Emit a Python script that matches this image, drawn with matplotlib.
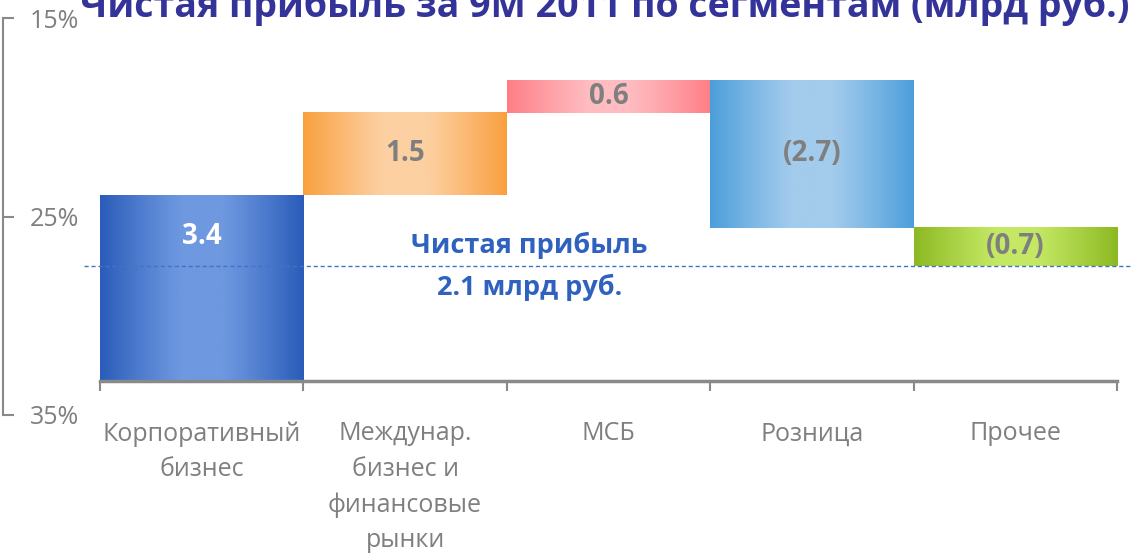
import numpy as np
import matplotlib
matplotlib.use("Agg")
import matplotlib.pyplot as plt
from matplotlib.colors import to_rgb

plt.rcParams['font.family'] = ['Open Sans', 'DejaVu Sans']

# data
categories = ["Корпоративный\nбизнес", "Междунар.\nбизнес и\nфинансовые\nрынки",
              "МСБ", "Розница", "Прочее"]
values = [3.4, 1.5, 0.6, -2.7, -0.7]
value_labels = ["3.4", "1.5", "0.6", "(2.7)", "(0.7)"]
net_profit = 2.1
pct_ticks = [15, 25, 35]
pct_labels = ["15%", "25%", "35%"]

edge_colors = ["#2a5cb9", "#f9a03f", "#fe7e86", "#4c9edb", "#8cb922"]
mid_colors = ["#6e98e0", "#fdd0a2", "#ffbcc1", "#a2cbec", "#c4e864"]
label_colors = ["white", "#7f7f7f", "#7f7f7f", "#7f7f7f", "#7f7f7f"]
grey = "#898989"

W, H = 1132, 557
fig = plt.figure(figsize=(W / 100, H / 100), dpi=100)

px = 54.7  # pixels per unit
ax = fig.add_axes([100 / W, (H - 381) / H, 1017 / W, 381 / H])
ax.patch.set_alpha(0)


def gradient(c_edge, c_mid, n=256):
    x = np.linspace(0, 1, n)
    t = np.abs(x - 0.5) * 2
    w = np.clip((t - 0.2) / 0.8, 0, 1) ** 1.1
    e = np.array(to_rgb(c_edge))
    m = np.array(to_rgb(c_mid))
    img = m[None, :] + (e - m)[None, :] * w[:, None]
    return img[None, :, :]


cum = np.concatenate([[0], np.cumsum(values)])
for i, v in enumerate(values):
    b = min(cum[i], cum[i + 1])
    t = max(cum[i], cum[i + 1])
    ax.imshow(gradient(edge_colors[i], mid_colors[i]), extent=(i, i + 1, b, t),
              aspect='auto', interpolation='bilinear', zorder=2)
    ly = (b + t) / 2
    if i == 0:
        ly = t - 0.76
    ax.text(i + 0.5, ly, value_labels[i], ha='center', va='center',
            fontsize=20, fontweight='bold', color=label_colors[i], zorder=4)

ax.set_xlim(0, 5)
ax.set_ylim(0, 381 / px)

# net profit line
ax.plot([-0.08, 5.08], [net_profit, net_profit], color="#4472c4", lw=1,
        ls=(0, (3, 2)), clip_on=False, zorder=3)
ax.text(2.11, net_profit, "Чистая прибыль\n%.1f млрд руб." % net_profit,
        ha='center', va='center', fontsize=19.5, fontweight='bold',
        color="#2f62bf", linespacing=1.7, zorder=4)

for s in ["top", "right", "left"]:
    ax.spines[s].set_visible(False)
ax.spines["bottom"].set_color(grey)
ax.spines["bottom"].set_linewidth(2.5)
ax.set_yticks([])
ax.set_xticks(np.arange(6))
ax.set_xticklabels([])
ax.tick_params(axis='x', which='major', direction='out', length=7, width=1.5, color=grey)
ax.set_xticks(np.arange(5) + 0.5, minor=True)
ax.set_xticklabels(categories, minor=True, fontsize=18, color="#7f7f7f", linespacing=1.55)
ax.tick_params(axis='x', which='minor', length=0, pad=29)

# left percent axis
ax2 = fig.add_axes([3 / W, (H - 415) / H, 0.5 / W, 397 / H])
ax2.set_ylim(35, 15)
ax2.set_xticks([])
ax2.set_yticks(pct_ticks)
ax2.set_yticklabels(pct_labels)
for s in ["top", "right", "bottom"]:
    ax2.spines[s].set_visible(False)
ax2.spines["left"].set_color(grey)
ax2.spines["left"].set_linewidth(1.5)
ax2.tick_params(axis='y', left=True, right=False, labelleft=False, labelright=True,
                direction='in', length=8, width=1.5, color=grey, pad=19,
                labelsize=18, labelcolor="#7f7f7f")

# title (cut off at the top as in the source)
fig.text(605 / W, 1 - 17 / H, "Чистая прибыль за 9М 2011 по сегментам (млрд руб.)",
         ha='center', va='baseline', fontsize=27, fontweight='bold', color="#333399")

fig.savefig("out.png", dpi=100)
